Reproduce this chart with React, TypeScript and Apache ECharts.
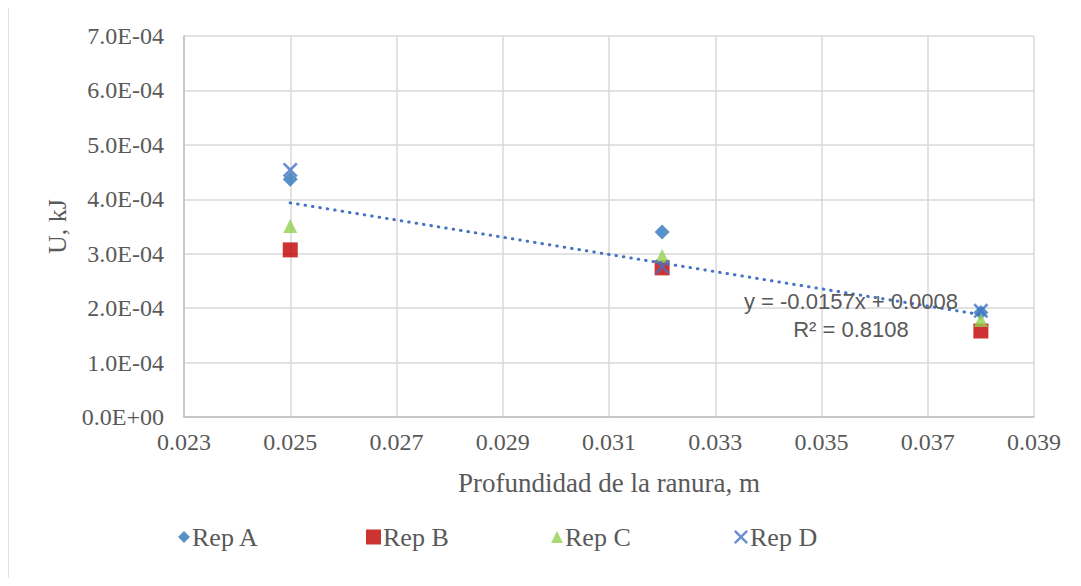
import React, { useEffect, useRef } from "react";
import * as echarts from "echarts";

const depths = [0.025, 0.032, 0.038];
const repA = [4.37e-4, 3.4e-4, 1.92e-4];
const repB = [3.07e-4, 2.74e-4, 1.58e-4];
const repC = [3.51e-4, 2.96e-4, 1.78e-4];
const repD = [4.54e-4, 2.76e-4, 1.95e-4];
const seriesNames = ["Rep A", "Rep B", "Rep C", "Rep D"];
const xTicks = { min: 0.023, max: 0.039, interval: 0.002 };
const yTicks = { min: 0, max: 7e-4, interval: 1e-4 };
const equationText = "y = -0.0157x + 0.0008";
const r2Text = "R² = 0.8108";

const X_PATH =
  "path://M0,1.2 L1.2,0 L5,3.8 L8.8,0 L10,1.2 L6.2,5 L10,8.8 L8.8,10 L5,6.2 L1.2,10 L0,8.8 L3.8,5 Z";

function regression(xs: number[], ys: number[]) {
  const n = xs.length;
  const mx = xs.reduce((a, b) => a + b, 0) / n;
  const my = ys.reduce((a, b) => a + b, 0) / n;
  let sxy = 0;
  let sxx = 0;
  for (let i = 0; i < n; i++) {
    sxy += (xs[i] - mx) * (ys[i] - my);
    sxx += (xs[i] - mx) * (xs[i] - mx);
  }
  const slope = sxy / sxx;
  return { slope, intercept: my - slope * mx };
}

export default function App() {
  const ref = useRef<HTMLDivElement>(null);
  useEffect(() => {
    if (!ref.current) return;
    const chart = echarts.init(ref.current, null, { renderer: "svg" });
    const all = [repA, repB, repC, repD];
    const xs: number[] = [];
    const ys: number[] = [];
    all.forEach((s) =>
      s.forEach((v, i) => {
        xs.push(depths[i]);
        ys.push(v);
      })
    );
    const { slope, intercept } = regression(xs, ys);
    const x0 = depths[0];
    const x1 = depths[depths.length - 1];
    const trend = [
      [x0, intercept + slope * x0],
      [x1, intercept + slope * x1],
    ];
    const pts = (s: number[]) => s.map((v, i) => [depths[i], v]);
    const symbols = ["diamond", "rect", "triangle", X_PATH];
    const sizes = [15, 15, 14, 15];
    const colors = ["#2E75B6", "#C00000", "#92D050", "#4472C4"];
    const legendLefts = [173, 361, 546, 729];
    const legendIconSizes = [12, 15, 12, 14];
    const serif = "'Liberation Serif', 'Times New Roman', serif";

    chart.setOption({
      animation: false,
      backgroundColor: "#ffffff",
      grid: { left: 184, right: 47, top: 36, bottom: 169 },
      xAxis: {
        type: "value",
        min: xTicks.min,
        max: xTicks.max,
        interval: xTicks.interval,
        name: "Profundidad de la ranura, m",
        nameLocation: "middle",
        nameGap: 52,
        nameTextStyle: { fontFamily: serif, fontSize: 27, color: "#595959" },
        axisLine: { show: true, lineStyle: { color: "#bfbfbf", width: 1.5 } },
        axisTick: { show: false },
        splitLine: { show: true, lineStyle: { color: "#d9d9d9", width: 1.5 } },
        axisLabel: {
          fontFamily: serif,
          fontSize: 24,
          color: "#595959",
          margin: 13,
          formatter: (v: number) => v.toFixed(3),
        },
      },
      yAxis: {
        type: "value",
        min: yTicks.min,
        max: yTicks.max,
        interval: yTicks.interval,
        name: "U, kJ",
        nameLocation: "middle",
        nameGap: 111,
        nameTextStyle: { fontFamily: serif, fontSize: 26, color: "#595959" },
        axisLine: { show: true, lineStyle: { color: "#bfbfbf", width: 1.5 } },
        axisTick: { show: false },
        splitLine: { show: true, lineStyle: { color: "#d9d9d9", width: 1.5 } },
        axisLabel: {
          fontFamily: serif,
          fontSize: 24,
          color: "#595959",
          margin: 20,
          formatter: (v: number) => {
            const s = v.toExponential(1);
            const [m, e] = s.split("e");
            const sign = e[0] === "-" ? "-" : "+";
            const d = e.replace(/[+-]/, "").padStart(2, "0");
            return `${m}E${sign}${d}`;
          },
        },
      },
      legend: seriesNames.map((name, i) => ({
        data: [name],
        left: legendLefts[i],
        top: 519,
        itemWidth: legendIconSizes[i],
        itemHeight: legendIconSizes[i],
        itemGap: 0,
        textStyle: {
          fontFamily: serif,
          fontSize: 26,
          color: "#595959",
          padding: [0, 0, 0, -3],
        },
      })),
      series: [
        ...all.map((s, i) => ({
          name: seriesNames[i],
          type: "scatter",
          data: pts(s),
          symbol: symbols[i],
          symbolSize: sizes[i],
          itemStyle: { color: colors[i] },
          z: 2 + i,
        })),
        {
          name: "Trend",
          type: "line",
          data: trend,
          symbol: "none",
          lineStyle: { color: "#4472C4", width: 3, type: [0.5, 7], cap: "round" },
          z: 10,
          silent: true,
        },
      ],
      graphic: [
        {
          type: "rect",
          shape: { x: 8, y: 6, width: 1200, height: 700 },
          style: { fill: "none", stroke: "#d9d9d9", lineWidth: 1.5 },
          silent: true,
          z: -1,
        },
        {
          type: "text",
          x: 851,
          y: 301,
          style: {
            text: equationText,
            fontFamily: "'Liberation Sans', Arial, sans-serif",
            fontSize: 22,
            fill: "#595959",
            textAlign: "center",
            textVerticalAlign: "middle",
          },
          z: 20,
        },
        {
          type: "text",
          x: 851,
          y: 329,
          style: {
            text: r2Text,
            fontFamily: "'Liberation Sans', Arial, sans-serif",
            fontSize: 22,
            fill: "#595959",
            textAlign: "center",
            textVerticalAlign: "middle",
          },
          z: 20,
        },
      ],
    });
    return () => chart.dispose();
  }, []);
  return <div ref={ref} style={{ width: 1081, height: 586, margin: -8 }} />;
}
